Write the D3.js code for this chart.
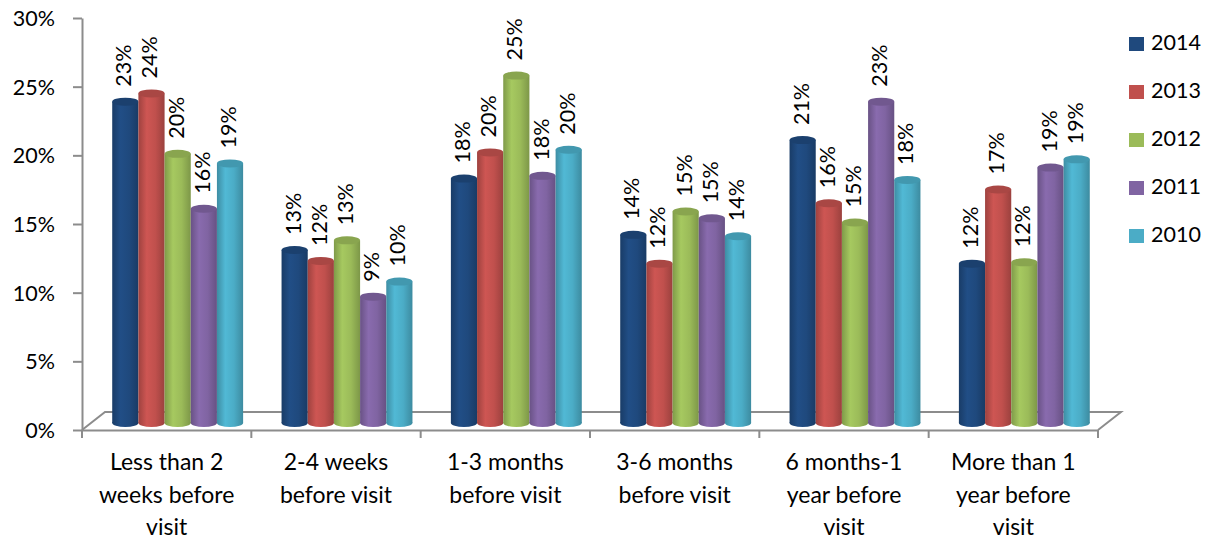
<!DOCTYPE html>
<html>
<head>
<meta charset="utf-8">
<script src="https://cdn.jsdelivr.net/npm/d3@7"></script>
<style>
  body { margin: 0; background: #fff; }
  text { font-family: Lato, "Open Sans", sans-serif; fill: #000; }
</style>
</head>
<body>
<script>
var w = 1217, h = 540;

var categories = ['lt2w', '2-4w', '1-3m', '3-6m', '6m-1y', 'gt1y'];
var categoryLines = [
  ['Less than 2', 'weeks before', 'visit'],
  ['2-4 weeks', 'before visit'],
  ['1-3 months', 'before visit'],
  ['3-6 months', 'before visit'],
  ['6 months-1', 'year before', 'visit'],
  ['More than 1', 'year before', 'visit']
];
var years = ['2014', '2013', '2012', '2011', '2010'];
var colors = ['#1F497D', '#C0504D', '#9BBB59', '#8064A2', '#4BACC6'];

var v2014 = [23.4, 12.6, 17.8, 13.7, 20.6, 11.6];
var v2013 = [24.0, 11.8, 19.7, 11.6, 16.0, 17.0];
var v2012 = [19.6, 13.3, 25.3, 15.4, 14.6, 11.7];
var v2011 = [15.6, 9.2, 18.0, 14.9, 23.4, 18.6];
var v2010 = [18.9, 10.3, 19.9, 13.6, 17.7, 19.2];
var series = [v2014, v2013, v2012, v2011, v2010];

var yTicks = [0, 5, 10, 15, 20, 25, 30];

// depth offsets of the 3d floor
var depthX = 23, depthY = -18;
var barDX = 11, barDY = -7;

var x0 = d3.scaleBand()
  .domain(categories)
  .range([82, 1098])
  .paddingInner(0.227)
  .paddingOuter(0.1135);

var x1 = d3.scaleBand()
  .domain(years)
  .range([0, x0.bandwidth()]);

var y = d3.scaleLinear()
  .domain([0, 30])
  .range([430, 18]);

var color = d3.scaleOrdinal()
  .domain(years)
  .range(colors);

var svg = d3.select('body').append('svg')
  .attr('width', w)
  .attr('height', h);

var defs = svg.append('defs');
years.forEach(function(yr) {
  var c = d3.color(color(yr));
  var g = defs.append('linearGradient')
    .attr('id', 'grad' + yr)
    .attr('x1', '0%').attr('x2', '100%');
  g.append('stop').attr('offset', '0%').attr('stop-color', c.darker(0.55));
  g.append('stop').attr('offset', '32%').attr('stop-color', c.brighter(0.2));
  g.append('stop').attr('offset', '65%').attr('stop-color', c);
  g.append('stop').attr('offset', '100%').attr('stop-color', c.darker(0.6));
});

// floor
var x0r = x0.range();
svg.append('path')
  .attr('d', 'M' + x0r[0] + ',' + y(0) +
    'L' + (x0r[0] + depthX) + ',' + (y(0) + depthY) +
    'L' + (x0r[1] + depthX) + ',' + (y(0) + depthY) +
    'L' + x0r[1] + ',' + y(0))
  .attr('fill', 'none')
  .attr('stroke', '#8c8c8c')
  .attr('stroke-width', 2);

// y axis
var yAxis = svg.append('g')
  .attr('transform', 'translate(82,0)')
  .call(d3.axisLeft(y).tickValues(yTicks).tickSize(9).tickSizeOuter(0).tickFormat(function(d) { return d + '%'; }));
yAxis.select('.domain').attr('stroke', '#8c8c8c').attr('stroke-width', 2);
yAxis.selectAll('.tick line').attr('stroke', '#8c8c8c').attr('stroke-width', 2);
yAxis.selectAll('.tick text')
  .attr('x', -27)
  .attr('dy', '0.35em')
  .style('font-size', '21.5px');

// x axis
var xAxis = svg.append('g')
  .attr('transform', 'translate(0,' + y(0) + ')')
  .call(d3.axisBottom(x0).tickSize(0).tickFormat(''));
xAxis.select('.domain').attr('stroke', '#8c8c8c').attr('stroke-width', 2);
var bounds = d3.range(categories.length + 1).map(function(i) { return x0r[0] + i * x0.step(); });
xAxis.selectAll('.sep')
  .data(bounds)
  .enter().append('line')
  .attr('x1', function(d) { return d; })
  .attr('x2', function(d) { return d; })
  .attr('y1', 0).attr('y2', 8)
  .attr('stroke', '#8c8c8c')
  .attr('stroke-width', 2);

categories.forEach(function(c, i) {
  var t = svg.append('text')
    .attr('text-anchor', 'middle')
    .style('font-size', '23px');
  categoryLines[i].forEach(function(line, j) {
    t.append('tspan')
      .attr('x', x0(c) + x0.bandwidth() / 2)
      .attr('y', 470 + j * 32.5)
      .text(line);
  });
});

// bars
var ry = 4;
var base = y(0) + barDY;
var barData = [];
categories.forEach(function(c, i) {
  years.forEach(function(yr, k) {
    barData.push({ cat: c, year: yr, value: series[k][i] });
  });
});

var bars = svg.append('g').selectAll('g')
  .data(barData)
  .enter().append('g');

bars.append('rect')
  .attr('x', function(d) { return x0(d.cat) + x1(d.year) + barDX; })
  .attr('y', function(d) { return y(d.value) + barDY; })
  .attr('width', x1.bandwidth())
  .attr('height', function(d) { return base - (y(d.value) + barDY); })
  .attr('fill', function(d) { return 'url(#grad' + d.year + ')'; });

bars.append('ellipse')
  .attr('cx', function(d) { return x0(d.cat) + x1(d.year) + barDX + x1.bandwidth() / 2; })
  .attr('cy', base)
  .attr('rx', x1.bandwidth() / 2)
  .attr('ry', ry)
  .attr('fill', function(d) { return 'url(#grad' + d.year + ')'; });

bars.append('ellipse')
  .attr('cx', function(d) { return x0(d.cat) + x1(d.year) + barDX + x1.bandwidth() / 2; })
  .attr('cy', function(d) { return y(d.value) + barDY; })
  .attr('rx', x1.bandwidth() / 2)
  .attr('ry', ry)
  .attr('fill', function(d) { return d3.color(color(d.year)).darker(0.35); });

// data labels
bars.append('text')
  .attr('transform', function(d) {
    var cx = x0(d.cat) + x1(d.year) + barDX + x1.bandwidth() / 2;
    return 'translate(' + (cx + 6) + ',' + (y(d.value) + barDY - 15) + ') rotate(-90)';
  })
  .style('font-size', '21.5px')
  .text(function(d) { return Math.round(d.value) + '%'; });

// legend
var legend = svg.append('g').selectAll('g')
  .data(years)
  .enter().append('g')
  .attr('transform', function(d, i) { return 'translate(1129,' + (37 + i * 48) + ')'; });

legend.append('rect')
  .attr('width', 15)
  .attr('height', 14)
  .attr('fill', function(d) { return color(d); });

legend.append('text')
  .attr('x', 22)
  .attr('y', 13)
  .style('font-size', '21.5px')
  .text(function(d) { return d; });
</script>
</body>
</html>
